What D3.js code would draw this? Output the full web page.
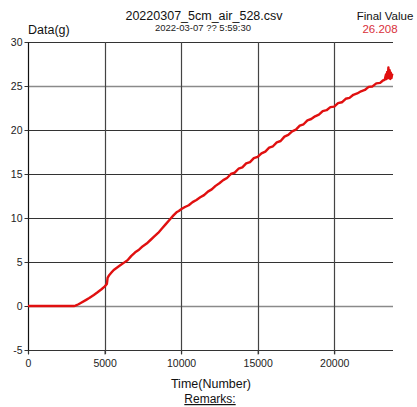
<!DOCTYPE html>
<html>
<head>
<meta charset="utf-8">
<script src="https://cdn.jsdelivr.net/npm/d3@7"></script>
<style>
  body { margin: 0; background: white; }
  text { font-family: "Liberation Sans", Arial, sans-serif; }
</style>
</head>
<body>
<div id="chart"></div>
<script>
var W = 417, H = 407;
var margin = { left: 28, right: 24, top: 42, bottom: 57 };

// data
var timeVals = [0, 1000, 2000, 3000, 3100, 3300, 3500, 3800, 4000, 4300, 4500, 4800, 5000, 5150, 5200, 5300, 5450,
  5600, 5800, 6000, 6250, 6500, 6750, 7000, 7250, 7500, 7750, 8000, 8250, 8500, 8750, 9000, 9250, 9500, 9700,
  9850, 10000, 10250, 10500, 10750, 11000, 11250, 11500, 11750, 12000, 12250, 12500, 12750, 13000, 13250, 13500,
  13750, 14000, 14250, 14500, 14750, 15000, 15250, 15500, 15750, 16000, 16250, 16500, 16750, 17000, 17250, 17500,
  17750, 18000, 18250, 18500, 18750, 19000, 19250, 19500, 19750, 20000, 20250, 20500, 20750, 21000, 21250, 21500,
  21750, 22000, 22250, 22500, 22750, 23000, 23200, 23300, 23380, 23420, 23460, 23500, 23540, 23580, 23620, 23660,
  23700, 23740, 23780, 23820];
var gramVals = [0, 0, 0, 0, 0.05, 0.2, 0.4, 0.7, 0.9, 1.25, 1.5, 1.9, 2.2, 2.5, 3.2, 3.5, 3.8,
  4.1, 4.35, 4.6, 4.9, 5.2, 5.7, 6.1, 6.4, 6.8, 7.1, 7.5, 7.9, 8.3, 8.8, 9.3, 9.8, 10.3, 10.65,
  10.8, 11.0, 11.25, 11.45, 11.8, 12.05, 12.35, 12.6, 13.0, 13.25, 13.65, 13.95, 14.3, 14.55, 15.0, 15.15,
  15.6, 15.75, 16.2, 16.35, 16.8, 16.95, 17.35, 17.55, 18.0, 18.15, 18.6, 18.75, 19.25, 19.45, 19.85, 20.05,
  20.5, 20.65, 21.1, 21.25, 21.55, 21.75, 22.15, 22.25, 22.6, 22.65, 23.05, 23.15, 23.55, 23.65, 24.0, 24.15,
  24.4, 24.55, 24.9, 24.95, 25.3, 25.35, 25.65, 25.7, 26.3, 25.8, 26.6, 25.9, 27.1, 25.9, 26.8, 25.8,
  26.5, 25.9, 26.3, 26.21];
var xTicks = [0, 5000, 10000, 15000, 20000];
var yTicks = [-5, 0, 5, 10, 15, 20, 25, 30];

var title = "20220307_5cm_air_528.csv";
var subtitle = "2022-03-07 ?? 5:59:30";
var finalValue = "26.208";

var svg = d3.select("#chart").append("svg")
  .attr("width", W)
  .attr("height", H)
  .attr("style", "background-color: white");

var x = d3.scaleLinear().domain([0, 23840]).range([margin.left, W - margin.right]);
var y = d3.scaleLinear().domain([-5, 30]).range([H - margin.bottom, margin.top]);

// horizontal grid
svg.append("g").selectAll("line")
  .data(yTicks)
  .enter().append("line")
  .attr("x1", x(0)).attr("x2", x.range()[1])
  .attr("y1", function(d) { return Math.round(y(d)) + 0.5; })
  .attr("y2", function(d) { return Math.round(y(d)) + 0.5; })
  .attr("stroke", function(d) { return (d == 0 || d == 25) ? "#8a8a8a" : "#333"; })
  .attr("stroke-width", function(d) { return (d == 0 || d == 25) ? 1.6 : 1.2; });

// vertical grid
svg.append("g").selectAll("line")
  .data(xTicks)
  .enter().append("line")
  .attr("y1", y(30)).attr("y2", y(-5) + 4)
  .attr("x1", function(d) { return Math.round(x(d)) + 0.5; })
  .attr("x2", function(d) { return Math.round(x(d)) + 0.5; })
  .attr("stroke", function(d) { return d == 0 ? "#111" : "#444"; })
  .attr("stroke-width", 1.2);

// y axis with small ticks (plain hyphen for negatives)
var yAxis = d3.axisLeft(y).tickValues(yTicks).tickSize(4).tickPadding(2)
  .tickFormat(function(d) { return String(d); });
var yg = svg.append("g")
  .attr("transform", "translate(" + (Math.round(x(0)) + 0.5) + ",0)")
  .call(yAxis);
yg.select(".domain").remove();
yg.selectAll("text").attr("font-size", "10.5px").attr("fill", "#222")
  .attr("font-family", "'Liberation Sans', Arial, sans-serif");
yg.selectAll("line").attr("stroke", "#333");

var xAxis = d3.axisBottom(x).tickValues(xTicks).tickSize(4).tickPadding(5)
  .tickFormat(function(d) { return String(d); });
var xg = svg.append("g")
  .attr("transform", "translate(0," + (Math.round(y(-5)) + 0.5) + ")")
  .call(xAxis);
xg.select(".domain").remove();
xg.selectAll("text").attr("font-size", "10.5px").attr("fill", "#222")
  .attr("font-family", "'Liberation Sans', Arial, sans-serif");
xg.selectAll("line").attr("stroke", "#333");

// data line
var pts = timeVals.map(function(t, i) { return [t, gramVals[i]]; });
var line = d3.line()
  .x(function(d) { return x(d[0]); })
  .y(function(d) { return y(d[1]); });

svg.append("path")
  .datum(pts)
  .attr("d", line)
  .attr("fill", "none")
  .attr("stroke", "#e01010")
  .attr("stroke-width", 2.4)
  .attr("stroke-linejoin", "round");

// texts
svg.append("text").attr("x", 204).attr("y", 20)
  .attr("text-anchor", "middle").attr("font-size", "12.5px").attr("fill", "#111")
  .text(title);
svg.append("text").attr("x", 203).attr("y", 31)
  .attr("text-anchor", "middle").attr("font-size", "9.5px").attr("fill", "#222")
  .text(subtitle);
svg.append("text").attr("x", 28).attr("y", 34)
  .attr("font-size", "12.5px").attr("fill", "#111")
  .text("Data(g)");
svg.append("text").attr("x", 385).attr("y", 20)
  .attr("text-anchor", "middle").attr("font-size", "11.5px").attr("fill", "#111")
  .text("Final Value");
svg.append("text").attr("x", 380).attr("y", 33)
  .attr("text-anchor", "middle").attr("font-size", "11.5px").attr("fill", "#d9303a")
  .text(finalValue);
svg.append("text").attr("x", 211).attr("y", 388)
  .attr("text-anchor", "middle").attr("font-size", "12.5px").attr("fill", "#111")
  .text("Time(Number)");
svg.append("text").attr("x", 210).attr("y", 403)
  .attr("text-anchor", "middle").attr("font-size", "12px").attr("fill", "#111")
  .attr("text-decoration", "underline")
  .text("Remarks:");
</script>
</body>
</html>
